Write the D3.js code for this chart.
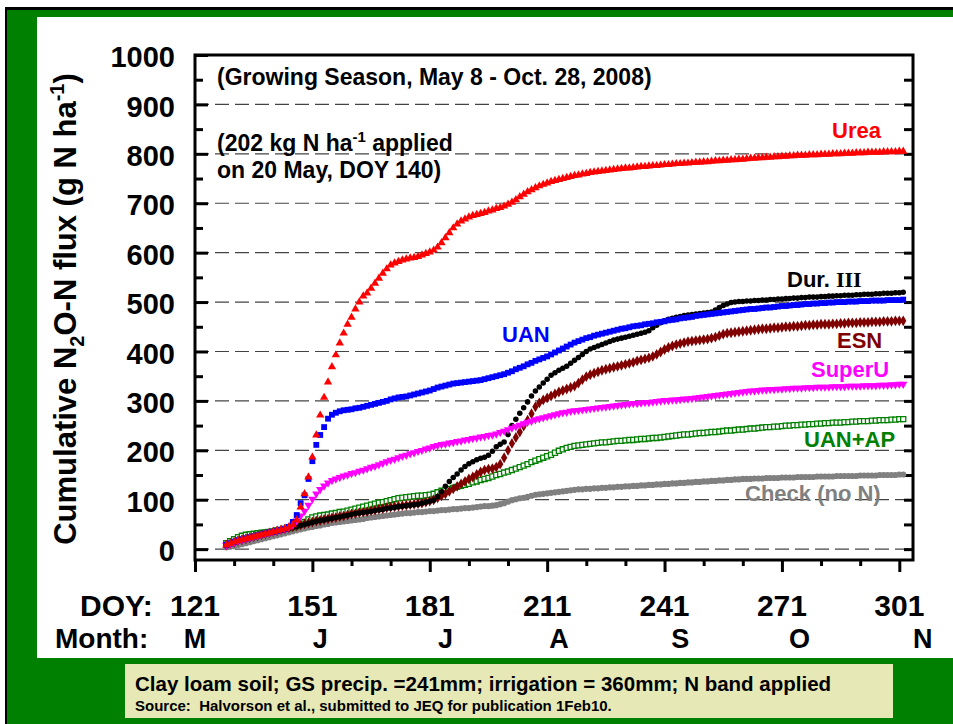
<!DOCTYPE html>
<html>
<head>
<meta charset="utf-8">
<script src="https://cdn.jsdelivr.net/npm/d3@7"></script>
<style>
body { margin: 0; background: #fff; }
svg text { font-family: "Liberation Sans", Arial, Helvetica, sans-serif; font-weight: bold; }
</style>
</head>
<body>
<div id="chart"></div>
<script>
// daily cumulative values, DOY 129 .. 302 (g N2O-N / ha)
var firstDay = 129;

var urea = [
  8, 11, 14, 17, 19, 21, 23, 25, 27, 29,
  31, 33, 35, 37, 39, 41, 44, 49, 59, 85,
  112, 146, 186, 231, 271, 307, 338, 369, 393, 417,
  437, 455, 469, 486, 500, 512, 518, 528, 538, 548,
  558, 567, 575, 579, 582, 585, 587, 589, 590, 592,
  595, 598, 601, 605, 611, 620, 630, 640, 650, 658,
  664, 668, 672, 675, 677, 679, 681, 684, 686, 689,
  691, 694, 698, 702, 707, 713, 718, 723, 727, 731,
  735, 738, 741, 744, 746, 748, 750, 752, 754, 756,
  757, 759, 760, 762, 763, 764, 765, 766, 767, 768,
  769, 770, 771, 771, 772, 773, 774, 774, 775, 776,
  776, 777, 778, 778, 779, 780, 780, 781, 781, 782,
  783, 783, 784, 784, 785, 786, 786, 787, 787, 788,
  788, 789, 789, 790, 791, 791, 792, 792, 793, 793,
  794, 794, 795, 795, 796, 796, 797, 797, 797, 798,
  798, 798, 799, 799, 799, 800, 800, 800, 801, 801,
  801, 802, 802, 802, 803, 803, 803, 803, 804, 804,
  804, 804, 805, 805
];

var uan = [
  9, 12, 15, 18, 20, 22, 24, 26, 28, 30,
  32, 34, 35, 37, 39, 41, 45, 55, 69, 93,
  109, 142, 178, 211, 231, 247, 264, 272, 276, 279,
  281, 282, 283, 285, 286, 288, 290, 292, 294, 296,
  298, 300, 303, 305, 307, 308, 309, 311, 313, 315,
  317, 319, 321, 324, 327, 329, 331, 333, 335, 336,
  337, 338, 339, 340, 341, 342, 344, 346, 348, 350,
  352, 354, 357, 360, 364, 367, 370, 374, 377, 381,
  384, 387, 390, 394, 398, 402, 406, 410, 414, 418,
  421, 424, 427, 429, 432, 434, 436, 438, 440, 442,
  444, 446, 447, 449, 451, 452, 453, 455, 456, 457,
  459, 460, 461, 463, 464, 465, 467, 468, 469, 470,
  472, 473, 474, 475, 476, 477, 478, 479, 480, 481,
  482, 483, 484, 485, 486, 486, 487, 488, 489, 489,
  490, 491, 492, 492, 493, 494, 494, 495, 496, 496,
  497, 497, 498, 498, 499, 499, 500, 500, 500, 501,
  501, 501, 502, 502, 502, 503, 503, 503, 503, 504,
  504, 504, 504, 505
];

var durIII = [
  7, 10, 13, 16, 18, 20, 22, 24, 26, 28,
  30, 32, 34, 36, 38, 40, 42, 44, 46, 48,
  50, 52, 54, 56, 58, 59, 61, 62, 64, 65,
  67, 68, 70, 72, 73, 74, 75, 76, 78, 79,
  80, 82, 83, 84, 86, 87, 88, 89, 90, 91,
  93, 95, 97, 99, 106, 116, 127, 137, 145, 152,
  160, 167, 173, 177, 181, 184, 186, 190, 198, 207,
  212, 217, 232, 250, 263, 275, 286, 298, 310, 320,
  328, 336, 344, 352, 357, 362, 366, 370, 376, 382,
  388, 394, 400, 405, 408, 411, 414, 417, 420, 423,
  425, 427, 429, 431, 433, 435, 437, 439, 442, 448,
  453, 458, 462, 465, 467, 469, 471, 473, 474, 475,
  476, 477, 478, 479, 480, 484, 489, 493, 496, 499,
  500, 501, 501, 502, 502, 503, 503, 504, 504, 505,
  505, 506, 506, 507, 507, 508, 508, 509, 509, 510,
  510, 510, 511, 511, 512, 512, 513, 513, 514, 514,
  514, 515, 515, 516, 516, 516, 517, 517, 518, 518,
  518, 519, 519, 520
];

var esn = [
  8, 11, 14, 17, 19, 21, 23, 25, 27, 29,
  31, 33, 35, 37, 39, 41, 43, 45, 47, 49,
  51, 53, 55, 57, 58, 60, 61, 63, 64, 66,
  67, 69, 71, 72, 74, 75, 76, 78, 79, 81,
  82, 84, 85, 86, 87, 88, 89, 90, 91, 92,
  93, 95, 97, 100, 104, 108, 112, 117, 122, 127,
  132, 137, 142, 146, 151, 156, 160, 162, 163, 166,
  172, 185, 200, 214, 226, 237, 249, 261, 274, 288,
  296, 302, 306, 310, 314, 318, 321, 324, 327, 330,
  336, 343, 349, 353, 356, 359, 362, 364, 366, 368,
  370, 372, 374, 376, 378, 381, 383, 385, 387, 390,
  394, 399, 404, 408, 411, 414, 416, 418, 420, 421,
  422, 423, 424, 425, 427, 429, 432, 435, 437, 438,
  439, 440, 441, 442, 443, 444, 445, 446, 446, 447,
  448, 448, 449, 450, 450, 451, 451, 452, 453, 453,
  454, 454, 455, 455, 455, 456, 456, 457, 457, 458,
  458, 458, 459, 459, 459, 460, 460, 460, 461, 461,
  461, 462, 462, 462
];

var superU = [
  8, 11, 14, 17, 19, 21, 23, 25, 27, 29,
  31, 33, 35, 37, 39, 41, 44, 49, 57, 67,
  77, 89, 101, 112, 121, 128, 134, 139, 142, 145,
  148, 150, 153, 155, 158, 160, 163, 166, 168, 171,
  174, 177, 180, 182, 185, 188, 190, 193, 195, 198,
  200, 203, 205, 208, 210, 212, 213, 215, 216, 218,
  219, 221, 222, 224, 225, 227, 228, 230, 231, 233,
  236, 239, 242, 245, 248, 251, 254, 257, 259, 262,
  264, 266, 268, 270, 272, 274, 276, 277, 279, 280,
  281, 282, 283, 284, 285, 286, 287, 288, 289, 290,
  291, 292, 293, 294, 295, 295, 296, 297, 297, 298,
  299, 300, 301, 301, 302, 302, 303, 304, 304, 305,
  306, 307, 308, 309, 310, 311, 312, 313, 314, 315,
  316, 317, 318, 319, 320, 320, 321, 322, 322, 323,
  323, 324, 324, 325, 325, 326, 326, 326, 327, 327,
  327, 328, 328, 328, 328, 329, 329, 329, 329, 330,
  330, 330, 330, 331, 331, 331, 331, 332, 332, 332,
  333, 333, 334, 334
];

var uanAP = [
  12, 16, 20, 24, 27, 29, 30, 31, 32, 33,
  34, 35, 36, 38, 39, 41, 42, 44, 46, 50,
  55, 60, 64, 66, 68, 69, 70, 72, 73, 75,
  76, 78, 80, 82, 84, 86, 88, 90, 92, 94,
  95, 97, 99, 101, 103, 104, 105, 106, 107, 108,
  108, 109, 110, 112, 115, 118, 120, 122, 124, 126,
  128, 130, 132, 135, 137, 140, 142, 144, 147, 150,
  152, 155, 157, 160, 163, 166, 169, 172, 176, 179,
  182, 185, 188, 191, 195, 199, 202, 205, 207, 209,
  210, 211, 212, 213, 214, 215, 216, 216, 217, 218,
  219, 219, 220, 221, 221, 222, 223, 223, 224, 225,
  225, 226, 227, 228, 229, 230, 231, 232, 232, 233,
  234, 235, 235, 236, 237, 237, 238, 239, 240, 240,
  241, 242, 242, 243, 244, 244, 245, 246, 247, 247,
  248, 248, 249, 250, 250, 251, 251, 252, 252, 253,
  253, 254, 254, 255, 255, 256, 256, 256, 257, 257,
  258, 258, 259, 259, 259, 260, 260, 261, 261, 261,
  262, 262, 263, 263
];

var check = [
  4, 5, 6, 8, 10, 12, 14, 16, 18, 20,
  22, 24, 26, 28, 30, 32, 34, 36, 38, 40,
  42, 44, 45, 47, 48, 50, 51, 53, 54, 55,
  56, 57, 58, 59, 60, 61, 63, 64, 65, 66,
  67, 68, 69, 70, 71, 72, 73, 73, 74, 75,
  75, 76, 77, 77, 78, 79, 79, 80, 81, 81,
  82, 83, 83, 84, 85, 86, 87, 87, 88, 89,
  91, 93, 96, 99, 101, 103, 104, 106, 108, 110,
  111, 112, 113, 114, 115, 116, 117, 118, 119, 120,
  121, 121, 122, 122, 123, 123, 124, 124, 125, 125,
  126, 126, 127, 127, 128, 128, 129, 129, 130, 130,
  131, 131, 132, 132, 133, 133, 134, 134, 135, 135,
  136, 136, 137, 137, 138, 138, 139, 139, 140, 140,
  141, 141, 142, 142, 142, 143, 143, 143, 144, 144,
  144, 144, 145, 145, 145, 145, 146, 146, 146, 146,
  146, 147, 147, 147, 147, 147, 148, 148, 148, 148,
  148, 148, 149, 149, 149, 149, 149, 150, 150, 150,
  150, 150, 151, 151
];

var doyTicks = [121, 151, 181, 211, 241, 271, 301];
var monthLabels = ["M", "J", "J", "A", "S", "O", "N"];
var monthDoy = [121, 153, 185, 214, 245, 275.5, 307];
var yTicks = [0, 100, 200, 300, 400, 500, 600, 700, 800, 900, 1000];

var W = 953, H = 724;

var svg = d3.select("#chart").append("svg")
  .attr("width", W)
  .attr("height", H);

// frame of the slide
svg.append("rect").attr("x", 5).attr("y", 7).attr("width", W - 5).attr("height", H - 7).attr("fill", "#000");
svg.append("rect").attr("x", 7).attr("y", 10).attr("width", W - 7).attr("height", H - 10).attr("fill", "#008000");
svg.append("rect").attr("x", 37).attr("y", 17).attr("width", W - 37).attr("height", 641).attr("fill", "#fff");

// scales
var x = d3.scaleLinear().domain([121, 304.5]).range([195, 913]);
var y = d3.scaleLinear().domain([-22, 1000]).range([560, 55]);

// dashed grid
svg.append("g")
  .selectAll("line")
  .data(yTicks.slice(0, -1))
  .enter()
  .append("line")
    .attr("x1", x(121)).attr("x2", x(304.5))
    .attr("y1", function(d){ return y(d); })
    .attr("y2", function(d){ return y(d); })
    .attr("stroke", "#444")
    .attr("stroke-width", 1.2)
    .attr("stroke-dasharray", "14,6");

// y axis ticks (inside) + labels
var yAxis = svg.append("g")
  .attr("transform", "translate(195,0)")
  .call(d3.axisLeft(y).tickValues(yTicks).tickSize(-13).tickPadding(20).tickFormat(d3.format("d")));
yAxis.select(".domain").remove();
yAxis.selectAll("line").attr("stroke-width", 3);
yAxis.selectAll("text")
  .style("font-size", "29px")
  .attr("dy", "0.4em")
  .attr("fill", "#000");

var yMinor = svg.append("g")
  .attr("transform", "translate(195,0)")
  .call(d3.axisLeft(y).tickValues(d3.range(50, 1000, 100)).tickSize(-8).tickFormat(""));
yMinor.select(".domain").remove();
yMinor.selectAll("line").attr("stroke-width", 3);

var yRight = svg.append("g")
  .attr("transform", "translate(913,0)")
  .call(d3.axisRight(y).tickValues(d3.range(0, 1000, 50)).tickSize(-9).tickFormat(""));
yRight.select(".domain").remove();
yRight.selectAll("line").attr("stroke-width", 3);

// x axis ticks (outside)
var xMajor = svg.append("g")
  .attr("transform", "translate(0,560)")
  .call(d3.axisBottom(x).tickValues(doyTicks).tickSize(12).tickFormat(""));
xMajor.select(".domain").remove();
xMajor.selectAll("line").attr("stroke-width", 3);

var xMinor = svg.append("g")
  .attr("transform", "translate(0,560)")
  .call(d3.axisBottom(x).tickValues(d3.range(131, 302, 10).filter(function(d){ return (d - 121) % 30 != 0; })).tickSize(6).tickFormat(""));
xMinor.select(".domain").remove();
xMinor.selectAll("line").attr("stroke-width", 3);

// plot box
svg.append("rect")
  .attr("x", 195).attr("y", 55)
  .attr("width", 718).attr("height", 505)
  .attr("fill", "none")
  .attr("stroke", "#000")
  .attr("stroke-width", 3);

// series markers
function drawSeries(values, shape, size, fill, stroke, rot) {
  var gen = d3.symbol().type(shape).size(size);
  svg.append("g")
    .selectAll("path")
    .data(values)
    .enter()
    .append("path")
      .attr("d", gen)
      .attr("transform", function(d, i){
        return "translate(" + x(firstDay + i) + "," + y(d) + ")" + (rot ? " rotate(" + rot + ")" : "");
      })
      .attr("fill", fill)
      .attr("stroke", stroke || "none")
      .attr("stroke-width", 1.3);
}

drawSeries(check, d3.symbolCircle, 30, "#808080");
drawSeries(uanAP, d3.symbolSquare, 26, "#fff", "#008000");
drawSeries(esn, d3.symbolDiamond, 34, "#800000");
drawSeries(durIII, d3.symbolCircle, 24, "#000");
drawSeries(superU, d3.symbolTriangle, 30, "#ff00ff", null, 180);
drawSeries(uan, d3.symbolSquare, 34, "#0000ff");
drawSeries(urea, d3.symbolTriangle, 30, "#ff0000");

// series labels
function label(txt, px, py, clr) {
  return svg.append("text").attr("x", px).attr("y", py)
    .attr("fill", clr).style("font-size", "22px").text(txt);
}
label("Urea", 832, 138, "#ff0000");
var dur = label("Dur. ", 787, 287, "#000");
dur.append("tspan").style("font-family", "'Liberation Serif','Times New Roman',serif").text("III");
label("UAN", 502, 342, "#0000ff");
label("ESN", 837, 348, "#800000");
label("SuperU", 811, 377, "#ff00ff");
label("UAN+AP", 804, 447, "#008000");
label("Check (no N)", 745, 501, "#808080");

// notes inside the plot
svg.append("text").attr("x", 217).attr("y", 85).style("font-size", "23px")
  .text("(Growing Season, May 8 - Oct. 28, 2008)");
var n2 = svg.append("text").attr("x", 217).attr("y", 151).style("font-size", "23px");
n2.append("tspan").text("(202 kg N ha");
n2.append("tspan").attr("dy", -9).style("font-size", "15px").text("-1");
n2.append("tspan").attr("dy", 9).text(" applied");
svg.append("text").attr("x", 217).attr("y", 178).style("font-size", "23px")
  .text("on 20 May, DOY 140)");

// y title
var yt = svg.append("text")
  .attr("transform", "translate(76,309) rotate(-90)")
  .attr("text-anchor", "middle")
  .style("font-size", "31px");
yt.append("tspan").text("Cumulative N");
yt.append("tspan").attr("dy", 8).style("font-size", "20px").text("2");
yt.append("tspan").attr("dy", -8).text("O-N flux (g N ha");
yt.append("tspan").attr("dy", -12).style("font-size", "20px").text("-1");
yt.append("tspan").attr("dy", 12).text(")");

// x labels: DOY row and month row
svg.append("text").attr("x", 80).attr("y", 616).style("font-size", "30px").text("DOY:");
svg.append("g").selectAll("text")
  .data(doyTicks)
  .enter()
  .append("text")
    .attr("x", function(d){ return x(d); })
    .attr("y", 616)
    .attr("text-anchor", "middle")
    .style("font-size", "30px")
    .text(function(d){ return d; });

svg.append("text").attr("x", 55).attr("y", 648).style("font-size", "28px").text("Month:");
svg.append("g").selectAll("text")
  .data(monthLabels)
  .enter()
  .append("text")
    .attr("x", function(d, i){ return x(monthDoy[i]); })
    .attr("y", 648)
    .attr("text-anchor", "middle")
    .style("font-size", "27px")
    .text(function(d){ return d; });

// caption box
svg.append("rect").attr("x", 125).attr("y", 664).attr("width", 768).attr("height", 54).attr("fill", "#e6e8b6");
svg.append("text").attr("x", 135).attr("y", 691).style("font-size", "20.5px")
  .text("Clay loam soil; GS precip. =241mm; irrigation = 360mm; N band applied");
svg.append("text").attr("x", 135).attr("y", 711).style("font-size", "15px")
  .attr("xml:space", "preserve").style("white-space", "pre")
  .text("Source:  Halvorson et al., submitted to JEQ for publication 1Feb10.");
</script>
</body>
</html>
